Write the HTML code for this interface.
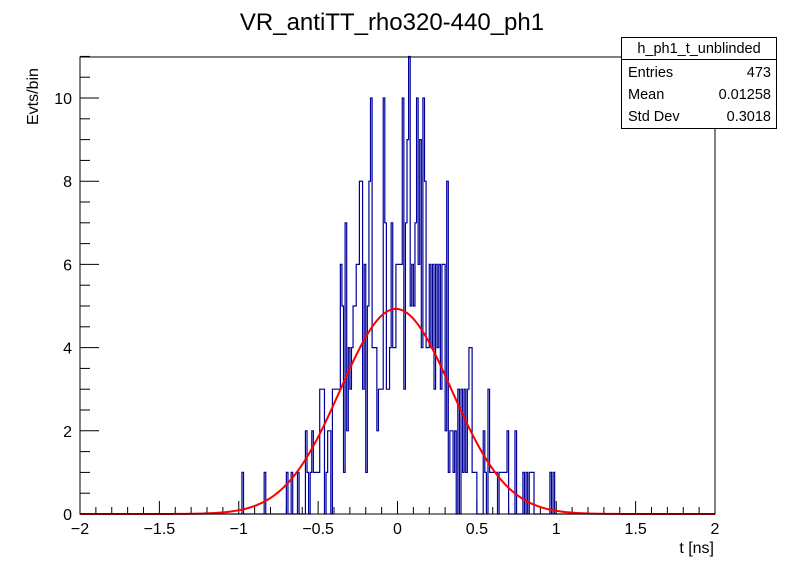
<!DOCTYPE html>
<html><head><meta charset="utf-8"><style>
body{margin:0;background:#fff;}
svg{display:block;font-family:"Liberation Sans",sans-serif;}
</style></head><body>
<svg id="c" width="796" height="572" viewBox="0 0 796 572">
<rect x="0" y="0" width="796" height="572" fill="#fff"/>
<text x="392" y="30" font-size="24" text-anchor="middle">VR_antiTT_rho320-440_ph1</text>
<g id="ticks"></g>
<g id="hist"></g>
<g id="fit"></g>
<rect x="80" y="57" width="635" height="457" fill="none" stroke="#000" stroke-width="1"/>
<text x="714" y="553" font-size="16" text-anchor="end">t [ns]</text>
<text transform="translate(38,125) rotate(-90)" font-size="16" text-anchor="start">Evts/bin</text>
<g>
<rect x="621.5" y="37.5" width="155" height="91" fill="#fff" stroke="#000"/>
<line x1="621.5" y1="59.5" x2="776.5" y2="59.5" stroke="#000"/>
<text x="699" y="53" font-size="14.5" text-anchor="middle">h_ph1_t_unblinded</text>
<text x="628" y="77" font-size="14.5">Entries</text>
<text x="771" y="77" font-size="14.5" text-anchor="end">473</text>
<text x="628" y="99" font-size="14.5">Mean</text>
<text x="771" y="99" font-size="14.5" text-anchor="end">0.01258</text>
<text x="628" y="121" font-size="14.5">Std Dev</text>
<text x="771" y="121" font-size="14.5" text-anchor="end">0.3018</text>
</g>
</svg>
<script>
const binLow = -1.0;
const binWidth = 0.01;
const counts = [
0,0,1,0,0,0,0,0,0,0, 0,0,0,0,0,0,1,0,0,0, 0,0,0,0,0,0,0,0,0,0, 1,0,0,1,0,0,0,1,0,0,
0,0,2,1,0,1,2,1,1,1, 1,3,3,3,0,1,2,2,0,3, 3,3,3,3,6,5,1,7,2,4, 3,4,5,5,6,6,8,8,3,6,
1,5,8,10,4,4,4,2,3,3, 3,10,7,3,3,4,7,4,4,6,
6,6,6,10,3,7,9,11,5,6, 5,7,10,6,9,4,10,8,4,4, 6,4,6,3,6,4,6,3,6,6, 2,8,1,2,2,1,2,0,3,0,
3,1,3,1,3,4,4,1,1,1, 0,0,0,0,2,1,0,3,1,1, 1,1,1,0,1,1,1,1,1,2, 0,0,0,0,2,0,0,0,0,1,
0,1,0,1,1,1,0,0,0,0, 0,0,0,0,0,0,1,0,1,0
];
const fitAmp = [4.93];
const fitMean = [-0.01];
const fitSigma = [0.35];
const xTickLabels = ["−2","−1.5","−1","−0.5","0","0.5","1","1.5","2"];
const xTickValues = [-2,-1.5,-1,-0.5,0,0.5,1,1.5,2];
const yTickValues = [0,2,4,6,8,10];

const X0=80,X1=715,Y0=514,Y1=57,XMIN=-2,XMAX=2,YMIN=0,YMAX=10.986;
function sx(v){return X0+(v-XMIN)/(XMAX-XMIN)*(X1-X0);}
function sy(v){return Y0-(v-YMIN)/(YMAX-YMIN)*(Y0-Y1);}
const NS="http://www.w3.org/2000/svg";
function mk(tag,attrs,parent){const e=document.createElementNS(NS,tag);for(const k in attrs)e.setAttribute(k,attrs[k]);parent.appendChild(e);return e;}

const tg=document.getElementById('ticks');
for(let i=0;i<=40;i++){const v=-2+i*0.1;const major=(i%5===0);
 const t=mk('line',{x1:sx(v),x2:sx(v),y1:Y0,y2:Y0-(major?13:7),stroke:'#000'},tg);
 
 }
xTickValues.forEach((v,i)=>{const t=mk('text',{x:sx(v),y:Y0+20,'font-size':16,'text-anchor':'middle'},tg);t.textContent=xTickLabels[i];
 
 });
for(let i=0;i<=22;i++){const v=i*0.5;const major=(i%4===0);
 const t=mk('line',{x1:X0,x2:X0+(major?19:10),y1:sy(v),y2:sy(v),stroke:'#000'},tg);
 
 }
yTickValues.forEach(v=>{const t=mk('text',{x:X0-8,y:sy(v)+6,'font-size':16,'text-anchor':'end'},tg);t.textContent=String(v);
 
 });

const hg=document.getElementById('hist');
let d='M'+sx(XMIN)+','+sy(0)+' L'+sx(binLow)+','+sy(0);
counts.forEach((c,i)=>{const xl=sx(binLow+i*binWidth),xr=sx(binLow+(i+1)*binWidth);
 d+=' L'+xl+','+sy(c)+' L'+xr+','+sy(c);});
d+=' L'+sx(binLow+counts.length*binWidth)+','+sy(0)+' L'+sx(XMAX)+','+sy(0);
const hp=mk('path',{d:d,fill:'none',stroke:'#000099','stroke-width':1.2},hg);



const fg=document.getElementById('fit');
let pts=[];
for(let i=0;i<=400;i++){const x=XMIN+i*(XMAX-XMIN)/400;const y=fitAmp[0]*Math.exp(-0.5*Math.pow((x-fitMean[0])/fitSigma[0],2));pts.push(sx(x).toFixed(2)+','+sy(y).toFixed(2));}
const fp=mk('polyline',{points:pts.join(' '),fill:'none',stroke:'#ff0000','stroke-width':2},fg);


</script>
</body></html>
